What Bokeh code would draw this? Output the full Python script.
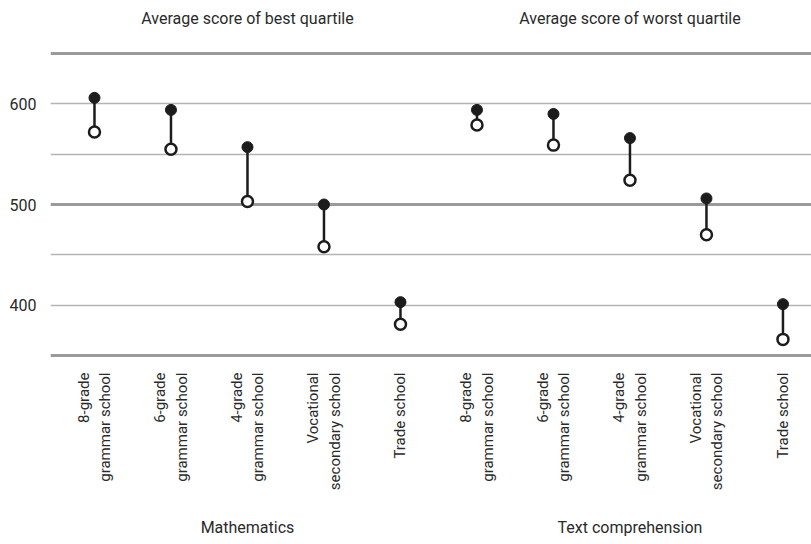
import math
from bokeh.plotting import figure
from bokeh.models import Range1d, FixedTicker, Grid, LinearAxis
from bokeh.embed import file_html
from bokeh.resources import INLINE

categories = ["8-grade\ngrammar school", "6-grade\ngrammar school", "4-grade\ngrammar school",
              "Vocational\nsecondary school", "Trade school"]
subjects = ["Mathematics", "Text comprehension"]
series_titles = ["Average score of best quartile", "Average score of worst quartile"]
best_math = [606, 594, 557, 500, 403]
worst_math = [572, 555, 503, 458, 381]
best_text = [594, 590, 566, 506, 401]
worst_text = [579, 559, 524, 470, 366]
y_ticks = [400, 500, 600]
thin_grid = [400, 450, 550, 600]
thick_grid = [350, 500, 650]
group_centers = [2, 7]

FONT = "Roboto"
TXT = "#2a2a2a"
INK = "#1c1c1c"

labels = categories + categories
xs = list(range(len(labels)))
best = best_math + best_text
worst = worst_math + worst_text

p = figure(width=811, height=544, output_backend="svg", toolbar_location=None,
           x_range=Range1d(-0.575, 9.373), y_range=Range1d(347, 655),
           min_border_left=50, min_border_right=0, min_border_top=48, min_border_bottom=186)
p.outline_line_color = None
p.background_fill_color = "white"
p.border_fill_color = "white"

# grids
p.xgrid.grid_line_color = None
p.ygrid.ticker = FixedTicker(ticks=thin_grid)
p.ygrid.grid_line_color = "#b4b4b4"
p.ygrid.grid_line_width = 1.5
g2 = Grid(dimension=1, ticker=FixedTicker(ticks=thick_grid), grid_line_color="#9a9a9a", grid_line_width=3)
p.add_layout(g2)

def style_axis(ax, size):
    ax.axis_line_color = None
    ax.major_tick_line_color = None
    ax.minor_tick_line_color = None
    ax.major_label_text_font = FONT
    ax.major_label_text_font_size = size
    ax.major_label_text_color = TXT

# y axis
p.yaxis.ticker = FixedTicker(ticks=y_ticks)
style_axis(p.yaxis[0], "16px")
p.yaxis.major_label_standoff = 8

# category axis
p.xaxis.ticker = FixedTicker(ticks=xs)
p.xaxis.major_label_overrides = {i: lab for i, lab in zip(xs, labels)}
p.xaxis.major_label_orientation = math.pi / 2
style_axis(p.xaxis[0], "15px")
p.xaxis.major_label_standoff = 8

# group axis (below)
gax = LinearAxis(ticker=FixedTicker(ticks=group_centers),
                 major_label_overrides={c: s for c, s in zip(group_centers, subjects)})
style_axis(gax, "16px")
gax.major_label_standoff = 18
p.add_layout(gax, "below")

# series titles (above)
tax = LinearAxis(ticker=FixedTicker(ticks=group_centers),
                 major_label_overrides={c: s for c, s in zip(group_centers, series_titles)})
style_axis(tax, "16px")
tax.major_label_standoff = 15
p.add_layout(tax, "above")

# marks
p.segment(x0=xs, y0=best, x1=xs, y1=worst, line_color=INK, line_width=2.5)
p.scatter(xs, best, size=11, fill_color=INK, line_color=INK, line_width=1)
p.scatter(xs, worst, size=11, fill_color="white", line_color=INK, line_width=2.5)

open("out.html", "w").write(file_html(p, INLINE))
